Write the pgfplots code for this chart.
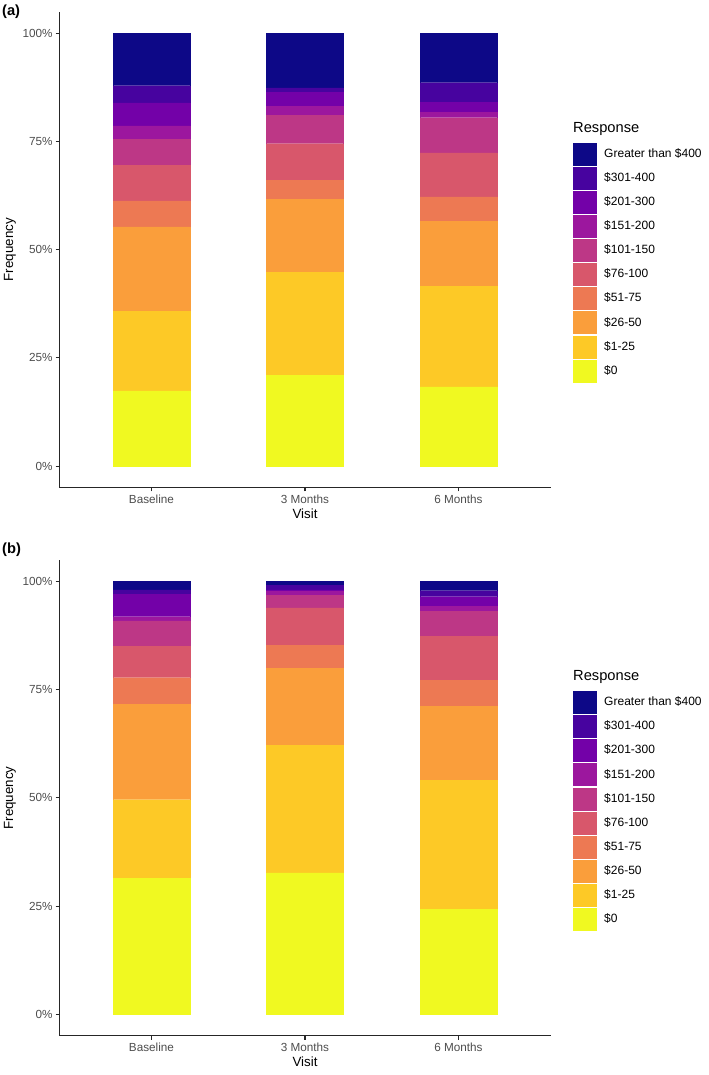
\documentclass[border=0pt]{standalone}
\usepackage{pgfplots}
\usepackage{pgfplotstable}
\pgfplotsset{compat=1.18}
\usepackage{fontspec}
\setmainfont{Liberation Sans}

\definecolor{p0}{HTML}{F0F921}
\definecolor{p1}{HTML}{FDC926}
\definecolor{p2}{HTML}{FA9E3B}
\definecolor{p3}{HTML}{ED7953}
\definecolor{p4}{HTML}{D8576B}
\definecolor{p5}{HTML}{BD3786}
\definecolor{p6}{HTML}{9C179E}
\definecolor{p7}{HTML}{7301A8}
\definecolor{p8}{HTML}{47039F}
\definecolor{p9}{HTML}{0D0887}
\definecolor{ggtick}{HTML}{4D4D4D}

% columns: c0=$0, c1=$1-25, c2=$26-50, c3=$51-75, c4=$76-100,
% c5=$101-150, c6=$151-200, c7=$201-300, c8=$301-400, c9=>$400
\pgfplotstableread{
x c0 c1 c2 c3 c4 c5 c6 c7 c8 c9
0 17.4 18.4 19.5 6.0 8.2 6.0 3.1 5.3 4.0 12.1
1 21.0 23.8 16.9 4.3 8.5 6.5 2.2 3.1 1.1 12.6
2 18.3 23.2 15.0 5.7 10.2 8.1 1.2 2.4 4.5 11.4
}\dataA
\pgfplotstableread{
x c0 c1 c2 c3 c4 c5 c6 c7 c8 c9
0 31.5 18.1 22.1 6.1 7.2 5.9 1.0 5.1 1.1 1.9
1 32.7 29.5 17.8 5.2 8.7 3.0 0.9 0.3 1.0 0.9
2 24.2 29.9 17.1 6.0 10.2 5.8 1.1 2.2 1.4 2.1
}\dataB

\pgfplotsset{
  panel/.style={
    scale only axis,
    width=368.4pt, height=357pt,
    anchor=north west,
    clip=false,
    xmin=-0.6, xmax=2.6, ymin=-5, ymax=105,
    ybar stacked, bar width=0.5,
    axis lines*=left,
    axis line style={-, draw=black!85, line width=0.8pt},
    tick style={draw=black!85, line width=0.8pt},
    tick align=outside, major tick length=2.75pt,
    xtick={0,1,2}, xticklabels={Baseline,3 Months,6 Months},
    ytick={0,25,50,75,100}, yticklabels={0\%,25\%,50\%,75\%,100\%},
    ticklabel style={font=\fontsize{8.8}{10}\selectfont, text=ggtick, inner sep=2.2pt},
    /pgf/number format/assume math mode=true,
    xlabel={Visit}, ylabel={Frequency},
    label style={font=\fontsize{11}{13}\selectfont},
    every axis y label/.style={at={(rel axis cs:-0.1006,0.5)}, rotate=90, anchor=center},
    every axis x label/.style={at={(ticklabel cs:0.5)}, anchor=near ticklabel, inner sep=2pt},
    reverse legend,
    legend cell align=left,
    legend style={draw=none, fill=none, at={(rel axis cs:1.0456,0.7242)}, anchor=north west,
      inner sep=0pt, outer sep=0pt,
      font=\fontsize{9}{10}\selectfont, row sep=1.35pt, column sep=6pt,
      nodes={inner sep=0pt}},
    legend image code/.code={\fill[##1] (0pt,-8.25pt) rectangle (17.25pt,8.25pt);},
    every axis plot/.append style={line width=0.2pt},
  }
}

\begin{document}
\begin{tikzpicture}
\useasboundingbox (-44.55pt,8.775pt) rectangle (487.2pt,-797.5pt);
\begin{axis}[panel, at={(0pt,0pt)}]
\addplot[fill=p0,draw=p0] table[x=x,y=c0]{\dataA};
\addplot[fill=p1,draw=p1] table[x=x,y=c1]{\dataA};
\addplot[fill=p2,draw=p2] table[x=x,y=c2]{\dataA};
\addplot[fill=p3,draw=p3] table[x=x,y=c3]{\dataA};
\addplot[fill=p4,draw=p4] table[x=x,y=c4]{\dataA};
\addplot[fill=p5,draw=p5] table[x=x,y=c5]{\dataA};
\addplot[fill=p6,draw=p6] table[x=x,y=c6]{\dataA};
\addplot[fill=p7,draw=p7] table[x=x,y=c7]{\dataA};
\addplot[fill=p8,draw=p8] table[x=x,y=c8]{\dataA};
\addplot[fill=p9,draw=p9] table[x=x,y=c9]{\dataA};
\legend{\$0,\$1-25,\$26-50,\$51-75,\$76-100,\$101-150,\$151-200,\$201-300,\$301-400,Greater than \$400}
\node[anchor=west, font=\fontsize{11}{13}\selectfont, inner sep=0pt] at (rel axis cs:1.0456,0.7536) {Response};
\node[anchor=north west, font=\bfseries\fontsize{11}{13}\selectfont, inner sep=0pt] at (rel axis cs:-0.117,1.0147) {(a)};
\end{axis}
\begin{axis}[panel, at={(0pt,-411.2pt)}]
\addplot[fill=p0,draw=p0] table[x=x,y=c0]{\dataB};
\addplot[fill=p1,draw=p1] table[x=x,y=c1]{\dataB};
\addplot[fill=p2,draw=p2] table[x=x,y=c2]{\dataB};
\addplot[fill=p3,draw=p3] table[x=x,y=c3]{\dataB};
\addplot[fill=p4,draw=p4] table[x=x,y=c4]{\dataB};
\addplot[fill=p5,draw=p5] table[x=x,y=c5]{\dataB};
\addplot[fill=p6,draw=p6] table[x=x,y=c6]{\dataB};
\addplot[fill=p7,draw=p7] table[x=x,y=c7]{\dataB};
\addplot[fill=p8,draw=p8] table[x=x,y=c8]{\dataB};
\addplot[fill=p9,draw=p9] table[x=x,y=c9]{\dataB};
\legend{\$0,\$1-25,\$26-50,\$51-75,\$76-100,\$101-150,\$151-200,\$201-300,\$301-400,Greater than \$400}
\node[anchor=west, font=\fontsize{11}{13}\selectfont, inner sep=0pt] at (rel axis cs:1.0456,0.7536) {Response};
\node[anchor=north west, font=\bfseries\fontsize{11}{13}\selectfont, inner sep=0pt] at (rel axis cs:-0.117,1.0360) {(b)};
\end{axis}
\end{tikzpicture}
\end{document}
